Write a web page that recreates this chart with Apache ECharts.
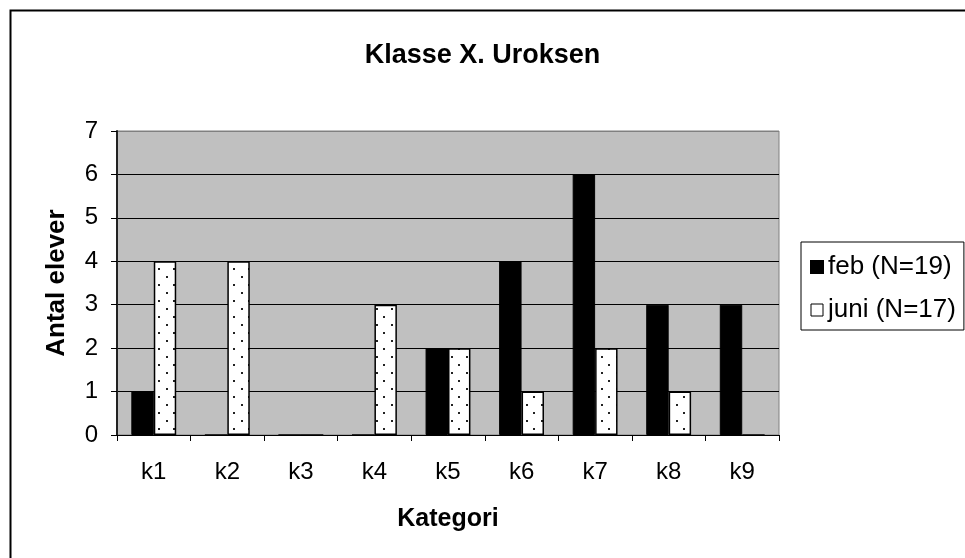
<!DOCTYPE html>
<html>
<head>
<meta charset="utf-8">
<script src="https://cdn.jsdelivr.net/npm/echarts@6/dist/echarts.min.js"></script>
<style>
  html, body { margin: 0; padding: 0; background: #fff; }
  #chart { width: 965px; height: 558px; }
</style>
</head>
<body>
<div id="chart"></div>
<script>
const categories = ['k1', 'k2', 'k3', 'k4', 'k5', 'k6', 'k7', 'k8', 'k9'];
const febValues = [1, 0, 0, 0, 2, 4, 6, 3, 3];
const juniValues = [4, 4, 0, 3, 2, 1, 2, 1, 0];
const seriesNames = ['feb (N=19)', 'juni (N=17)'];

// dotted fill like the old excel pattern
function dotPattern() {
  const c = document.createElement('canvas');
  c.width = 15; c.height = 16;
  const ctx = c.getContext('2d');
  ctx.fillStyle = '#fff';
  ctx.fillRect(0, 0, 15, 16);
  ctx.fillStyle = '#222';
  ctx.fillRect(1, 4, 2, 2);
  ctx.fillRect(8, 12, 2, 2);
  return c;
}

const font = 'Liberation Sans, Arial, sans-serif';
const chart = echarts.init(document.getElementById('chart'));
const option = {
  backgroundColor: '#fff',
  animation: false,
  title: {
    text: 'Klasse X. Uroksen',
    left: 'center',
    top: 37,
    textStyle: { fontFamily: font, fontSize: 27, fontWeight: 'bold', color: '#000' }
  },
  legend: {
    orient: 'vertical',
    left: 801,
    top: 242,
    borderColor: '#000',
    borderWidth: 1,
    padding: [12, 8, 7, 9],
    itemGap: 17,
    itemWidth: 12,
    itemHeight: 12,
    textStyle: { fontFamily: font, fontSize: 26, color: '#000' },
    data: [
      { name: seriesNames[0], icon: 'rect', itemStyle: { color: '#000' } },
      { name: seriesNames[1], icon: 'rect', itemStyle: { color: '#fff', borderColor: '#000', borderWidth: 1 } }
    ]
  },
  grid: {
    left: 117, top: 131, right: 186, bottom: 123,
    show: true,
    backgroundColor: '#c0c0c0',
    borderColor: '#808080',
    borderWidth: 1
  },
  xAxis: {
    type: 'category',
    data: categories,
    name: 'Kategori',
    nameLocation: 'middle',
    nameGap: 72,
    nameTextStyle: { fontFamily: font, fontSize: 25, fontWeight: 'bold', color: '#000' },
    axisLine: { lineStyle: { color: '#000', width: 1 } },
    axisTick: { show: true, length: 6, lineStyle: { color: '#000' } },
    axisLabel: { margin: 25, fontFamily: font, fontSize: 24, color: '#000' }
  },
  yAxis: {
    type: 'value',
    min: 0,
    max: 7,
    interval: 1,
    name: 'Antal elever',
    nameLocation: 'middle',
    nameGap: 47,
    nameRotate: 90,
    nameTextStyle: { fontFamily: font, fontSize: 26, fontWeight: 'bold', color: '#000' },
    axisLine: { show: true, lineStyle: { color: '#222', width: 2 } },
    axisTick: { show: true, length: 6, lineStyle: { color: '#000' } },
    axisLabel: { margin: 19, fontFamily: font, fontSize: 24, color: '#000' },
    splitLine: { lineStyle: { color: ['#000', '#000', '#000', '#000', '#000', '#000', '#000', '#808080'], width: 1 } }
  },
  series: [
    {
      name: seriesNames[0],
      type: 'bar',
      data: febValues,
      barGap: '0%',
      barCategoryGap: '39%',
      itemStyle: { color: '#000', borderColor: '#000', borderWidth: 1 }
    },
    {
      name: seriesNames[1],
      type: 'bar',
      data: juniValues,
      itemStyle: {
        color: { image: dotPattern(), repeat: 'repeat' },
        borderColor: '#000',
        borderWidth: 1.5
      }
    }
  ],
  graphic: [{
    type: 'rect',
    shape: { x: 10.5, y: 10.5, width: 1200, height: 800 },
    style: { fill: 'none', stroke: '#000', lineWidth: 2 },
    silent: true
  }]
};
chart.setOption(option);
</script>
</body>
</html>
